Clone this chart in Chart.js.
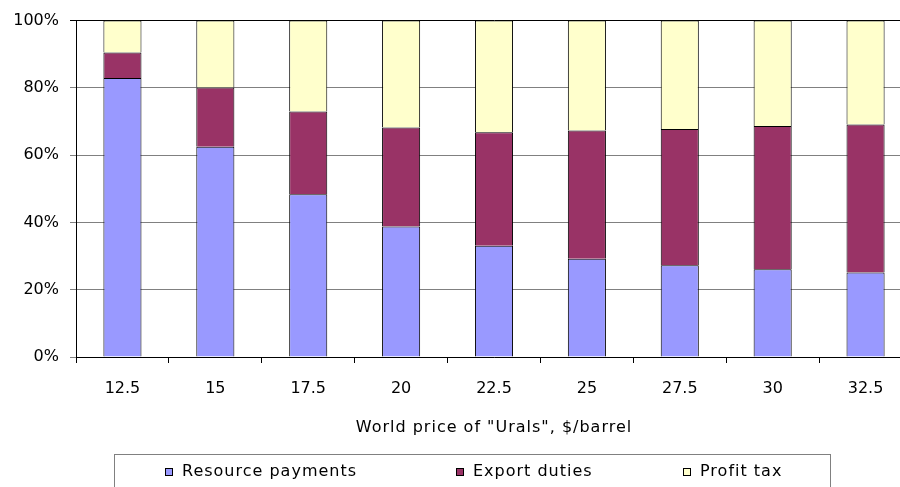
<!DOCTYPE html>
<html>
<head>
<meta charset="utf-8">
<script src="https://cdn.jsdelivr.net/npm/chart.js@4"></script>
<style>
  html, body { margin: 0; padding: 0; background: #fff; overflow: hidden; }
  #wrap { position: relative; width: 920px; height: 487px; }
</style>
</head>
<body>
<div id="wrap"><canvas id="chart" width="920" height="487"></canvas></div>
<script>
// world price of Urals, $/barrel
const prices = ['12.5', '15', '17.5', '20', '22.5', '25', '27.5', '30', '32.5'];

// shares of each payment, %
const resourcePayments = [82.9, 62.5, 48.4, 38.8, 33.1, 29.2, 27.3, 26.1, 25.1];
const exportDuties     = [7.6, 17.6, 24.6, 29.4, 33.7, 38.1, 40.5, 42.6, 44.0];
const profitTax        = [9.5, 19.9, 27.0, 31.8, 33.2, 32.7, 32.2, 31.3, 30.9];

const yTicks = [0, 20, 40, 60, 80, 100];

const FONT = 'DejaVu Sans';

// legend + axis title, drawn like the excel box at the bottom
const bottomText = {
  id: 'bottomText',
  afterDraw(chart) {
    const ctx = chart.ctx;
    const area = chart.chartArea;
    ctx.save();
    ctx.fillStyle = '#000';
    ctx.font = '16px "' + FONT + '"';
    ctx.letterSpacing = '1px';
    ctx.textAlign = 'center';
    ctx.textBaseline = 'middle';
    ctx.fillText('World price of "Urals", $/barrel', (area.left + area.right) / 2, 428);

    // legend box
    ctx.strokeStyle = '#808080';
    ctx.lineWidth = 1;
    ctx.strokeRect(114.5, 454.5, 716, 60);

    const itemX = [165, 456, 683];
    ctx.textAlign = 'left';
    chart.data.datasets.forEach((ds, i) => {
      const x = itemX[i];
      ctx.fillStyle = ds.backgroundColor;
      ctx.fillRect(x, 468, 8, 8);
      ctx.strokeStyle = '#000';
      ctx.strokeRect(x + 0.5, 468.5, 7, 7);
      ctx.fillStyle = '#000';
      ctx.fillText(ds.label, x + 17, 472);
    });
    ctx.restore();
  }
};

new Chart(document.getElementById('chart').getContext('2d'), {
  type: 'bar',
  data: {
    labels: prices,
    datasets: [
      {
        label: 'Resource payments',
        data: resourcePayments,
        backgroundColor: '#9999FF',
        borderColor: '#000',
        borderWidth: 1
      },
      {
        label: 'Export duties',
        data: exportDuties,
        backgroundColor: '#993366',
        borderColor: '#000',
        borderWidth: 1
      },
      {
        label: 'Profit tax',
        data: profitTax,
        backgroundColor: '#FFFFCC',
        borderColor: '#000',
        borderWidth: 1
      }
    ]
  },
  options: {
    responsive: false,
    animation: false,
    maintainAspectRatio: false,
    layout: { padding: { top: 20, right: 8, left: 0, bottom: 0 } },
    datasets: {
      bar: { categoryPercentage: 1, barPercentage: 0.41 }
    },
    plugins: {
      legend: { display: false },
      tooltip: { enabled: false }
    },
    scales: {
      x: {
        stacked: true,
        afterFit: scale => { scale.height = 130; },
        grid: {
          offset: true,
          drawOnChartArea: false,
          tickLength: 6,
          color: '#000'
        },
        border: { color: '#000', width: 1 },
        ticks: {
          color: '#000',
          padding: 16,
          autoSkip: false,
          font: { family: FONT, size: 16 },
          maxRotation: 0
        }
      },
      y: {
        stacked: true,
        min: 0,
        max: 100,
        afterFit: scale => { scale.width = 76; },
        afterBuildTicks: scale => { scale.ticks = yTicks.map(v => ({ value: v })); },
        grid: {
          tickLength: 6,
          color: ctx => (ctx.tick && ctx.tick.value === 100 ? '#000' : '#808080')
        },
        border: { color: '#000', width: 1 },
        ticks: {
          color: '#000',
          padding: 11,
          font: { family: FONT, size: 16 },
          callback: v => v + '%'
        }
      }
    }
  },
  plugins: [bottomText]
});
</script>
</body>
</html>
